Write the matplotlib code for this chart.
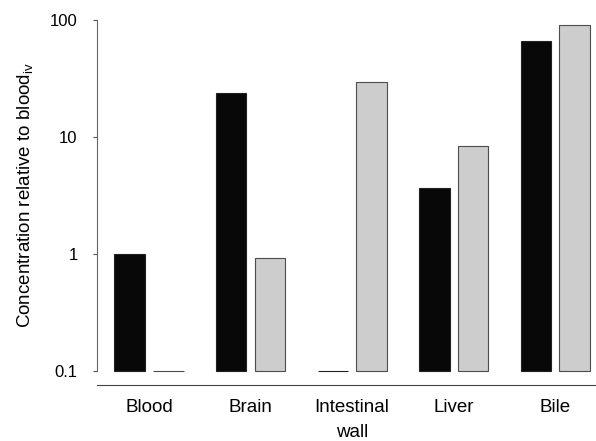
import matplotlib.pyplot as plt
import numpy as np

plt.rcParams['font.family'] = ['Liberation Sans', 'DejaVu Sans']
plt.rcParams['mathtext.fontset'] = 'custom'
plt.rcParams['mathtext.rm'] = 'Liberation Sans'

# data (concentration relative to blood iv); 0.1 = not detected / baseline
tissues = ['Blood', 'Brain', 'Intestinal\nwall', 'Liver', 'Bile']
series_a = [1.0, 23.8, 0.1, 3.66, 66.0]   # black bars
series_b = [0.1, 0.93, 29.5, 8.4, 91.0]   # grey bars
yticks = [0.1, 1, 10, 100]
ytick_labels = ['0.1', '1', '10', '100']

base = 0.1
fig = plt.figure(figsize=(5.96, 4.41), dpi=100)
ax = fig.add_axes([0.163, 0.159, 0.837, 0.796])

x = np.arange(len(tissues))
w = 0.3
off = 0.19
ax.bar(x - off, np.array(series_a) - base, w, bottom=base,
       color='#080808', edgecolor='#222222', linewidth=0.8, clip_on=False)
ax.bar(x + off, np.array(series_b) - base, w, bottom=base,
       color='#cdcdcd', edgecolor='#4d4d4d', linewidth=0.8, clip_on=False)

ax.set_yscale('log')
ax.set_ylim(0.1, 100)
ax.set_xlim(-0.51, 4.4)
ax.set_yticks(yticks)
ax.set_yticklabels(ytick_labels)
ax.minorticks_off()
ax.tick_params(axis='y', length=3, width=0.8, labelsize=12, pad=11, color='#555555')

# category labels drawn as annotations so the two-line label gets wider spacing
ax.set_xticks(x)
ax.set_xticklabels([])
ax.tick_params(axis='x', length=0)
for xi, name in zip(x, tissues):
    ax.annotate(name, xy=(xi, 0), xycoords=('data', 'axes fraction'),
                xytext=(0, -20.5), textcoords='offset points',
                ha='center', va='top', fontsize=13.5, linespacing=1.6,
                annotation_clip=False)

for s in ['top', 'right']:
    ax.spines[s].set_visible(False)
ax.spines['left'].set_color('#666666')
ax.spines['bottom'].set_color('#444444')
ax.spines['bottom'].set_position(('outward', 10.5))

ax.set_ylabel(r'Concentration relative to blood$_{\mathrm{iv}}$', fontsize=13.5, labelpad=10)

fig.savefig('out.png', dpi=100)
